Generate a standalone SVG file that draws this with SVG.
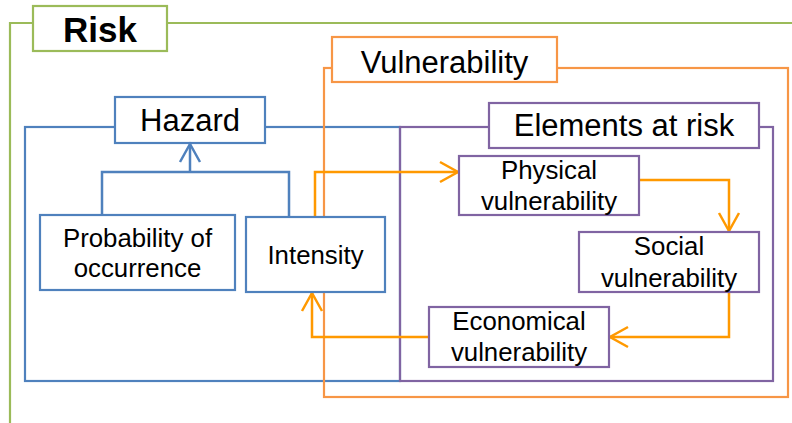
<svg xmlns="http://www.w3.org/2000/svg" width="792" height="423" viewBox="0 0 792 423">
  <style>
    .bg { fill: #ffffff; }
    .frame { fill: none; stroke-width: 2.2; }
    .box { fill: #ffffff; stroke-width: 2.2; }
    .green { stroke: #9bbb59; }
    .orange { stroke: #f79646; }
    .blue { stroke: #4f81bd; }
    .purple { stroke: #8064a2; }
    .title { font-family: "Liberation Sans", Arial, sans-serif; font-size: 31px; fill: #000; text-anchor: middle; }
    .risk { font-family: "Liberation Sans", Arial, sans-serif; font-size: 35px; font-weight: bold; fill: #000; text-anchor: middle; }
    .label { font-family: "Liberation Sans", Arial, sans-serif; font-size: 25.8px; fill: #000; text-anchor: middle; }
    .link-blue { fill: none; stroke: #4f81bd; stroke-width: 2.5; }
    .link-orange { fill: none; stroke: #ff9900; stroke-width: 2.5; }
  </style>
  <defs>
    <marker id="arrow-blue" markerUnits="userSpaceOnUse" markerWidth="24" markerHeight="24" viewBox="0 0 24 24" refX="21" refY="12" orient="auto" overflow="visible">
      <path d="M3,2 L21,12 L3,22" fill="none" stroke="#4f81bd" stroke-width="2.5"/>
    </marker>
    <marker id="arrow-orange" markerUnits="userSpaceOnUse" markerWidth="24" markerHeight="24" viewBox="0 0 24 24" refX="21" refY="12" orient="auto" overflow="visible">
      <path d="M3,2 L21,12 L3,22" fill="none" stroke="#ff9900" stroke-width="2.5"/>
    </marker>
  </defs>

  <rect class="bg" x="0" y="0" width="792" height="423"/>

  <!-- Outer risk frame -->
  <g id="risk">
    <path class="frame green" d="M33,23 H10 V423 M167,23 H792"/>
    <rect class="box green" x="33" y="6" width="134" height="45"/>
    <text class="risk" x="100" y="42">Risk</text>
  </g>

  <!-- Hazard frame -->
  <g id="hazard">
    <rect class="frame blue" x="25" y="127" width="375" height="254"/>
    <rect class="box blue" x="115" y="97" width="150" height="46"/>
    <text class="title" x="190" y="131">Hazard</text>
  </g>

  <!-- Vulnerability frame -->
  <g id="vulnerability">
    <rect class="frame orange" x="324" y="68" width="464" height="329"/>
    <rect class="box orange" x="332" y="37" width="225" height="45"/>
    <text class="title" x="444.5" y="73">Vulnerability</text>
  </g>

  <!-- Elements at risk frame -->
  <g id="elements-at-risk">
    <rect class="frame purple" x="400" y="127" width="373" height="254"/>
    <rect class="box purple" x="489" y="103" width="270" height="45"/>
    <text class="title" x="624" y="136">Elements at risk</text>
  </g>

  <!-- Connectors -->
  <g id="connectors">
    <path class="link-blue" d="M102,215 V172 H289 V217"/>
    <path class="link-blue" d="M190,172 V144" marker-end="url(#arrow-blue)"/>
    <path class="link-orange" d="M315,217 V172 H458" marker-end="url(#arrow-orange)"/>
    <path class="link-orange" d="M639,180 H729 V231" marker-end="url(#arrow-orange)"/>
    <path class="link-orange" d="M729,292 V337 H610" marker-end="url(#arrow-orange)"/>
    <path class="link-orange" d="M429,337 H312 V293" marker-end="url(#arrow-orange)"/>
  </g>

  <!-- Hazard components -->
  <g id="probability">
    <rect class="box blue" x="40" y="215" width="195" height="75"/>
    <text class="label" x="137.5" y="247">Probability of</text>
    <text class="label" x="137.5" y="277">occurrence</text>
  </g>
  <g id="intensity">
    <rect class="box blue" x="246" y="217" width="139" height="75"/>
    <text class="label" x="315.5" y="264">Intensity</text>
  </g>

  <!-- Vulnerability components -->
  <g id="physical">
    <rect class="box purple" x="459" y="156" width="180" height="59"/>
    <text class="label" x="549" y="179">Physical</text>
    <text class="label" x="549" y="210">vulnerability</text>
  </g>
  <g id="social">
    <rect class="box purple" x="579" y="232" width="180" height="60"/>
    <text class="label" x="669" y="255">Social</text>
    <text class="label" x="669" y="287">vulnerability</text>
  </g>
  <g id="economical">
    <rect class="box purple" x="429" y="307" width="180" height="60"/>
    <text class="label" x="519" y="330">Economical</text>
    <text class="label" x="519" y="361">vulnerability</text>
  </g>
</svg>
